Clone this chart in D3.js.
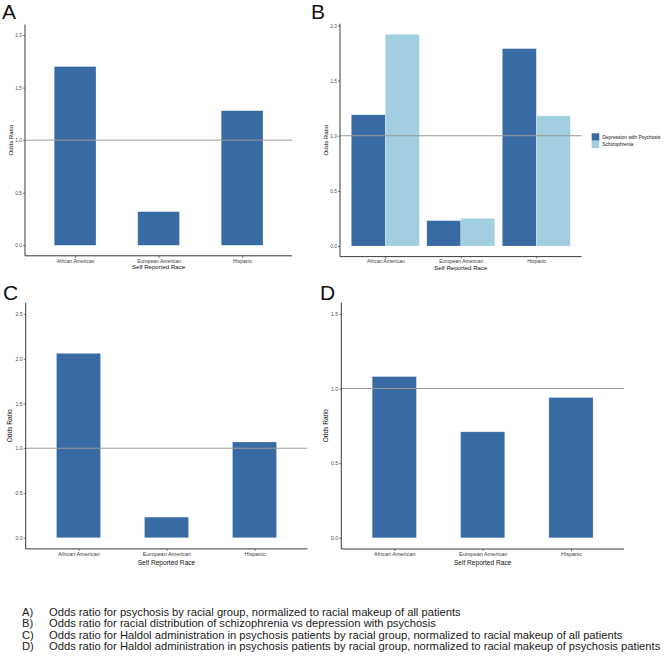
<!DOCTYPE html>
<html>
<head>
<meta charset="utf-8">
<script src="https://cdn.jsdelivr.net/npm/d3@7"></script>
<style>
  html, body { margin: 0; padding: 0; background: #fff; }
  svg { display: block; font-family: "Liberation Sans", Arial, Helvetica, sans-serif; }
</style>
</head>
<body>
<svg id="chart" width="666" height="662"></svg>
<script>
// ---------------- DATA ----------------
const categories = ["African American", "European American", "Hispanic"];
const oddsA = [1.70, 0.32, 1.28];
const oddsBDepression = [1.19, 0.23, 1.79];
const oddsBSchizophrenia = [1.92, 0.25, 1.18];
const oddsC = [2.06, 0.23, 1.07];
const oddsD = [1.08, 0.71, 0.94];
const seriesB = ["Depression with Psychosis", "Schizophrenia"];
const ticksA = [0, 0.5, 1.0, 1.5, 2.0];
const ticksB = [0, 0.5, 1.0, 1.5, 2.0];
const ticksC = [0, 0.5, 1.0, 1.5, 2.0, 2.5];
const ticksD = [0, 0.5, 1.0, 1.5];
const panelLetters = ["A", "B", "C", "D"];
const captionKeys = ["A)", "B)", "C)", "D)"];
const captions = [
  "Odds ratio for psychosis by racial group, normalized to racial makeup of all patients",
  "Odds ratio for racial distribution of schizophrenia vs depression with psychosis",
  "Odds ratio for Haldol administration in psychosis patients by racial group, normalized to racial makeup of all patients",
  "Odds ratio for Haldol administration in psychosis patients by racial group, normalized to racial makeup of psychosis patients"
];

// ---------------- STYLE ----------------
const DARK = "#386ba3";
const LIGHT = "#a1cfe0";
const svg = d3.select("#chart");

function panel(opt) {
  const g = svg.append("g");
  const x = d3.scalePoint().domain(categories).range([opt.x0, opt.x1]).padding(0.6);
  const y = d3.scaleLinear().domain(opt.ydomain).range([opt.yBot, opt.yTop]);
  const step = x.step();

  // bars
  opt.series.forEach((vals, si) => {
    const n = opt.series.length;
    const groupW = n === 1 ? 0.5 * step : 0.9 * step;
    const bw = groupW / n;
    g.append("g").selectAll("rect").data(vals).join("rect")
      .attr("x", (d, i) => x(categories[i]) - groupW / 2 + si * bw)
      .attr("width", bw)
      .attr("y", d => y(d))
      .attr("height", d => y(0) - y(d))
      .attr("fill", opt.colors[si])
      .attr("stroke", "#ffffff")
      .attr("stroke-opacity", 0.35)
      .attr("stroke-width", 0.6);
  });

  // reference line at 1
  g.append("line")
    .attr("x1", opt.x0).attr("x2", opt.x1)
    .attr("y1", y(1)).attr("y2", y(1))
    .attr("stroke", "#9a9a9a").attr("stroke-width", 1);

  // y axis
  const ya = g.append("g").attr("transform", `translate(${opt.x0},0)`)
    .call(d3.axisLeft(y).tickValues(opt.ticks).tickFormat(d3.format(".1f")).tickSize(2).tickPadding(1.2));
  ya.select(".domain").attr("stroke", "#3a3a3a").attr("stroke-width", 1).attr("d", `M0,${opt.yTop}V${opt.yBot}`);
  ya.selectAll(".tick line").attr("stroke", "#3a3a3a").attr("stroke-width", 0.7);
  ya.selectAll(".tick text").attr("font-size", opt.tickFont).attr("fill", "#4d4d4d").attr("font-family", null);

  // x axis
  const xa = g.append("g").attr("transform", `translate(0,${opt.yBot})`)
    .call(d3.axisBottom(x).tickSize(2).tickPadding(1.2));
  xa.select(".domain").attr("stroke", "#3a3a3a").attr("stroke-width", 1).attr("d", `M${opt.x0},0H${opt.x1}`);
  xa.selectAll(".tick line").attr("stroke", "#3a3a3a").attr("stroke-width", 0.7);
  xa.selectAll(".tick text").attr("font-size", opt.catFont).attr("fill", "#3d3d3d").attr("font-family", null);

  // axis titles
  g.append("text")
    .attr("x", (opt.x0 + opt.x1) / 2).attr("y", opt.xTitleY)
    .attr("text-anchor", "middle").attr("font-size", opt.titleFont).attr("fill", "#111")
    .text("Self Reported Race");
  g.append("text")
    .attr("transform", `translate(${opt.yTitleX},${(opt.yTop + opt.yBot) / 2}) rotate(-90)`)
    .attr("text-anchor", "middle").attr("font-size", opt.titleFont).attr("fill", "#111")
    .text("Odds Ratio");

  // panel letter
  svg.append("text").attr("x", opt.lx).attr("y", opt.ly)
    .attr("font-size", 21).attr("fill", "#111").text(opt.letter);
  return {g, x, y};
}

// Panel A
panel({letter: panelLetters[0], lx: 2, ly: 19,
  x0: 25, x1: 292.2, yTop: 24.5, yBot: 255.8, ydomain: [-0.1, 2.1],
  series: [oddsA], colors: [DARK], ticks: ticksA,
  tickFont: 4.8, catFont: 5, titleFont: 6.1, xTitleY: 269, yTitleX: 12.5});

// Panel B
const maxB = d3.max(oddsBSchizophrenia.concat(oddsBDepression));
panel({letter: panelLetters[1], lx: 311, ly: 19,
  x0: 340, x1: 581.6, yTop: 23.7, yBot: 256.6, ydomain: [-0.05 * maxB, 1.05 * maxB],
  series: [oddsBDepression, oddsBSchizophrenia], colors: [DARK, LIGHT], ticks: ticksB,
  tickFont: 4.8, catFont: 5, titleFont: 6.1, xTitleY: 269.5, yTitleX: 327.5});

// Legend B
const leg = svg.append("g").attr("transform", "translate(591.7,133.3)");
seriesB.forEach((s, i) => {
  leg.append("rect").attr("x", 0).attr("y", i * 7.4).attr("width", 7.6).attr("height", 7.4)
    .attr("fill", [DARK, LIGHT][i]);
  leg.append("text").attr("x", 10.6).attr("y", i * 7.4 + 5.5)
    .attr("font-size", 4.9).attr("fill", "#111").text(s);
});

// Panel C
panel({letter: panelLetters[2], lx: 3, ly: 300,
  x0: 25.7, x1: 307.3, yTop: 302.8, yBot: 548.9, ydomain: [-0.125, 2.625],
  series: [oddsC], colors: [DARK], ticks: ticksC,
  tickFont: 5.1, catFont: 5.5, titleFont: 6.6, xTitleY: 564.5, yTitleX: 12});

// Panel D
panel({letter: panelLetters[3], lx: 320, ly: 300,
  x0: 341.3, x1: 624, yTop: 302.7, yBot: 549, ydomain: [-0.075, 1.575],
  series: [oddsD], colors: [DARK], ticks: ticksD,
  tickFont: 5.1, catFont: 5.5, titleFont: 6.6, xTitleY: 564.5, yTitleX: 328});

// Captions
const cap = svg.append("g").attr("font-size", 11.2).attr("fill", "#1a1a1a");
captions.forEach((c, i) => {
  cap.append("text").attr("x", 22).attr("y", 616 + i * 11.3).text(captionKeys[i]);
  cap.append("text").attr("x", 49).attr("y", 616 + i * 11.3).text(c);
});
</script>
</body>
</html>
